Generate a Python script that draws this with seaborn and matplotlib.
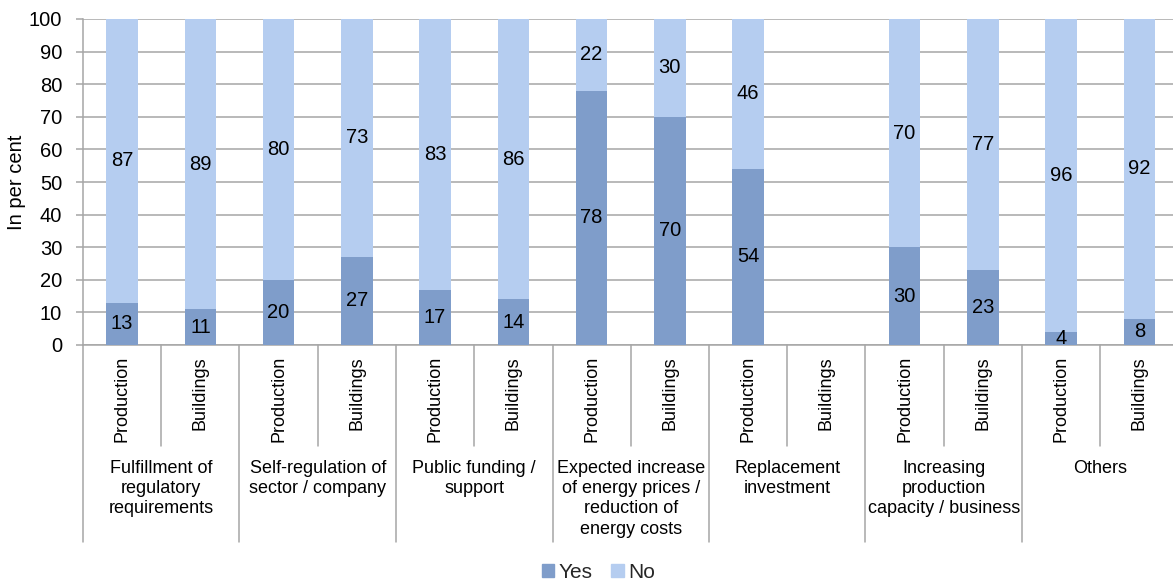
import numpy as np
import pandas as pd
import matplotlib
matplotlib.use('Agg')
import matplotlib.pyplot as plt
from matplotlib.patches import Patch
import seaborn as sns

# ======================== 数据 ========================
groups = ['Fulfillment of\nregulatory\nrequirements',
          'Self-regulation of\nsector / company',
          'Public funding /\nsupport',
          'Expected increase\nof energy prices /\nreduction of\nenergy costs',
          'Replacement\ninvestment',
          'Increasing\nproduction\ncapacity / business',
          'Others']
subcats = ['Production', 'Buildings']
yes = [13, 11, 20, 27, 17, 14, 78, 70, 54, np.nan, 30, 23, 4, 8]
no = [87, 89, 80, 73, 83, 86, 22, 30, 46, np.nan, 70, 77, 96, 92]

yes_color = '#7f9dca'
no_color = '#b5cdf0'
grid_color = '#a6a6a6'

sns.set_theme(style='white')
plt.rcParams['font.family'] = ['Liberation Sans', 'DejaVu Sans']

keys = [f'{g}|{s}' for g in range(len(groups)) for s in subcats]
df = pd.DataFrame({'key': keys, 'yes': yes, 'no': no})
df['total'] = df['yes'] + df['no']

fig = plt.figure(figsize=(11.73, 5.8), dpi=100)
ax = fig.add_axes([83 / 1173, 1 - 345 / 580, 14 * 78.25 / 1173, 326 / 580])

sns.barplot(data=df, x='key', y='total', order=keys, color=no_color,
            width=0.4, saturation=1, linewidth=0, ax=ax, zorder=3)
sns.barplot(data=df, x='key', y='yes', order=keys, color=yes_color,
            width=0.4, saturation=1, linewidth=0, ax=ax, zorder=4)

# 数值标签
for i, (y, n) in enumerate(zip(yes, no)):
    if np.isnan(y):
        continue
    ax.text(i, y / 2, f'{y:.0f}', ha='center', va='center', fontsize=14.5,
            color='black', zorder=5)
    ax.text(i, y + n / 2, f'{n:.0f}', ha='center', va='center', fontsize=14.5,
            color='black', zorder=5)

ax.set_ylim(0, 100)
ax.set_xlim(-0.5, 13.5)
ax.set_yticks(range(0, 101, 10))
ax.yaxis.grid(True, color=grid_color, linewidth=1.1, zorder=0)
ax.set_axisbelow(True)
ax.tick_params(axis='y', labelsize=14.5, length=5, color=grid_color, width=1.1,
               pad=10, left=True, labelcolor='black')
ax.set_ylabel('In per cent', fontsize=14.5, labelpad=2, color='black')
ax.set_xlabel('')

ax.set_xticks(range(len(keys)))
ax.set_xticklabels([s for _ in groups for s in subcats], rotation=90, fontsize=13, va='top')
ax.tick_params(axis='x', length=0, pad=8, labelcolor='black')

for side in ['top', 'right']:
    ax.spines[side].set_visible(False)
for side in ['left', 'bottom']:
    ax.spines[side].set_color(grid_color)
    ax.spines[side].set_linewidth(1.1)

# 分类分隔线
trans = ax.get_xaxis_transform()
for b in range(len(keys)):
    xb = b - 0.5
    ybot = -0.604 if b % 2 == 0 else -0.31
    ax.plot([xb, xb], [0, ybot], transform=trans, color=grid_color,
            linewidth=1.1, clip_on=False)

for g, name in enumerate(groups):
    ax.text(2 * g + 0.5, -0.352, name, transform=trans, ha='center', va='top',
            fontsize=13, color='black', multialignment='center', linespacing=1.25)

handles = [Patch(color=yes_color, label='Yes'), Patch(color=no_color, label='No')]
fig.legend(handles=handles, loc='lower center', bbox_to_anchor=(0.51, -0.035), ncol=2,
           frameon=False, fontsize=15, handlelength=0.6, handleheight=0.6,
           handletextpad=0.2, columnspacing=0.9)

plt.savefig('out.png', dpi=100)
